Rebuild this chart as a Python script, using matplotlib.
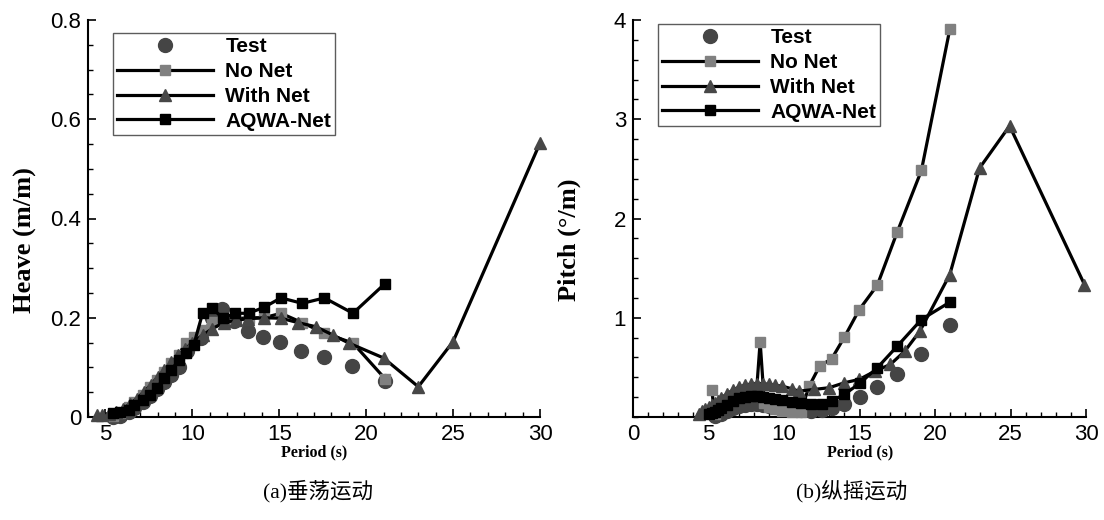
import matplotlib
matplotlib.use('Agg')
from matplotlib import pyplot as plt
from matplotlib.ticker import MultipleLocator, FixedLocator
from matplotlib.lines import Line2D

# heave (a)
heave_test_t = [5.41, 5.82, 6.33, 6.64, 7.15, 7.56, 7.97, 8.38, 8.79, 9.24, 9.71, 10.5, 11.15, 11.7, 12.4, 13.2, 14.08, 15.04, 16.25, 17.6, 19.2, 21.1]
heave_test = [0.0, 0.003, 0.01, 0.018, 0.03, 0.042, 0.056, 0.07, 0.085, 0.1, 0.132, 0.16, 0.2, 0.217, 0.193, 0.173, 0.161, 0.151, 0.132, 0.121, 0.103, 0.073]

heave_nonet_t = [5.41, 5.82, 6.33, 6.64, 7.15, 7.56, 7.97, 8.38, 8.79, 9.24, 9.61, 10.08, 10.59, 11.15, 11.76, 12.48, 13.24, 14.12, 15.1, 16.33, 17.6, 19.24, 21.09]
heave_nonet = [0.003, 0.008, 0.02, 0.03, 0.045, 0.06, 0.075, 0.09, 0.108, 0.125, 0.149, 0.162, 0.175, 0.192, 0.195, 0.198, 0.2, 0.2, 0.209, 0.19, 0.169, 0.149, 0.077]

heave_net_t = [4.5, 4.8, 5.2, 5.6, 6.0, 6.4, 6.8, 7.2, 7.6, 8.0, 8.4, 8.8, 9.2, 9.6, 10.0, 10.6, 11.15, 11.8, 12.5, 13.2, 14.1, 15.1, 16.1, 17.1, 18.1, 19.0, 21.0, 23.0, 25.0, 30.0]
heave_net = [0.005, 0.005, 0.007, 0.01, 0.016, 0.026, 0.037, 0.05, 0.064, 0.08, 0.095, 0.11, 0.124, 0.137, 0.15, 0.165, 0.178, 0.19, 0.195, 0.198, 0.2, 0.199, 0.19, 0.182, 0.165, 0.149, 0.119, 0.061, 0.152, 0.552]

heave_aqwa_t = [5.41, 5.82, 6.33, 6.64, 7.15, 7.56, 7.97, 8.38, 8.79, 9.24, 9.61, 10.08, 10.59, 11.15, 11.76, 12.48, 13.24, 14.12, 15.1, 16.33, 17.6, 19.24, 21.09]
heave_aqwa = [0.008, 0.010, 0.015, 0.025, 0.035, 0.045, 0.059, 0.079, 0.095, 0.115, 0.129, 0.145, 0.209, 0.219, 0.199, 0.209, 0.209, 0.221, 0.240, 0.229, 0.240, 0.209, 0.269]

# pitch (b)
pitch_test_t = [5.4, 5.8, 6.2, 6.6, 7.0, 7.4, 7.8, 8.2, 8.6, 9.0, 9.4, 9.9, 10.5, 11.1, 11.8, 12.5, 13.16, 14.0, 15.06, 16.18, 17.5, 19.1, 20.98]
pitch_test = [0.01, 0.03, 0.06, 0.09, 0.11, 0.12, 0.13, 0.13, 0.12, 0.11, 0.1, 0.09, 0.08, 0.07, 0.06, 0.07, 0.094, 0.127, 0.201, 0.302, 0.43, 0.637, 0.922]

pitch_nonet_t = [5.22, 5.41, 5.82, 6.2, 6.6, 7.0, 7.4, 7.8, 8.2, 8.42, 8.7, 9.0, 9.4, 9.9, 10.5, 11.1, 11.67, 12.36, 13.16, 14.0, 14.99, 16.18, 17.5, 19.1, 20.98]
pitch_nonet = [0.268, 0.03, 0.09, 0.15, 0.2, 0.24, 0.27, 0.29, 0.3, 0.758, 0.14, 0.1, 0.08, 0.06, 0.05, 0.05, 0.312, 0.513, 0.587, 0.805, 1.083, 1.328, 1.864, 2.484, 3.906]

pitch_net_t = [4.35, 4.6, 4.8, 5.03, 5.22, 5.41, 5.6, 5.82, 6.2, 6.6, 7.0, 7.4, 7.8, 8.2, 8.6, 9.0, 9.4, 9.9, 10.5, 10.98, 12.0, 12.99, 14.0, 14.99, 16.0, 17.05, 18.0, 19.0, 20.98, 22.95, 24.94, 29.9]
pitch_net = [0.03, 0.06, 0.08, 0.1, 0.12, 0.14, 0.16, 0.19, 0.23, 0.27, 0.3, 0.32, 0.33, 0.335, 0.335, 0.33, 0.32, 0.31, 0.285, 0.26, 0.278, 0.295, 0.345, 0.379, 0.46, 0.53, 0.664, 0.865, 1.435, 2.508, 2.933, 1.334]

pitch_aqwa_t = [5.03, 5.22, 5.41, 5.6, 5.82, 6.2, 6.6, 7.0, 7.4, 7.8, 8.2, 8.6, 9.0, 9.4, 9.9, 10.5, 11.1, 11.8, 12.5, 13.16, 14.0, 15.06, 16.18, 17.5, 19.1, 20.98]
pitch_aqwa = [0.03, 0.04, 0.05, 0.07, 0.09, 0.12, 0.16, 0.19, 0.2, 0.21, 0.21, 0.2, 0.19, 0.18, 0.17, 0.155, 0.14, 0.13, 0.13, 0.161, 0.228, 0.345, 0.496, 0.714, 0.982, 1.157]

labels = ['Test', 'No Net', 'With Net', 'AQWA-Net']
captions = ['(a)垂荡运动', '(b)纵摇运动']

c_test = '#454545'
c_nonet = '#808080'
c_net = '#474747'
lw = 2.3

fig = plt.figure(figsize=(11.04, 5.2), dpi=100)
W, H = 1104, 520

def make_axes(x0, x1):
	return fig.add_axes([x0 / W, 1 - 417 / H, (x1 - x0) / W, 397 / H])

def style(ax):
	for s in ['top', 'right']:
		ax.spines[s].set_visible(False)
	for s in ['left', 'bottom']:
		ax.spines[s].set_linewidth(1.5)
	ax.tick_params(which='major', direction='in', length=6, width=1.2, labelsize=16, pad=5)
	ax.tick_params(which='minor', direction='in', length=3.5, width=1.0)
	for t in ax.get_xticklabels() + ax.get_yticklabels():
		t.set_family('Liberation Sans')

def draw(ax, data):
	(tt, tv), (nt, nv), (wt, wv), (at, av) = data
	ax.plot(tt, tv, 'o', ls='none', color=c_test, ms=10, mec=c_test, clip_on=False, zorder=3)
	ax.plot(nt, nv, '-s', color='black', lw=lw, mfc=c_nonet, mec=c_nonet, ms=7.5, clip_on=False, zorder=4)
	ax.plot(wt, wv, '-^', color='black', lw=lw, mfc=c_net, mec=c_net, ms=8.5, clip_on=False, zorder=5)
	ax.plot(at, av, '-s', color='black', lw=lw, mfc='black', mec='black', ms=7.5, clip_on=False, zorder=6)

def legend(ax, x, y):
	handles = [
		Line2D([], [], ls='none', marker='o', color=c_test, ms=10),
		Line2D([], [], color='black', lw=lw, marker='s', mfc=c_nonet, mec=c_nonet, ms=7.5),
		Line2D([], [], color='black', lw=lw, marker='^', mfc=c_net, mec=c_net, ms=8.5),
		Line2D([], [], color='black', lw=lw, marker='s', mfc='black', mec='black', ms=7.5),
	]
	leg = ax.legend(handles, labels, loc='upper left', bbox_to_anchor=(x, y), handlelength=4.6,
		handletextpad=0.6, labelspacing=0.28, borderpad=0.2, borderaxespad=0, fancybox=False,
		prop={'family': 'Liberation Sans', 'weight': 'bold', 'size': 15})
	leg.get_frame().set_edgecolor('#333333')
	leg.get_frame().set_linewidth(1.0)
	leg.set_zorder(10)

# left: heave
ax1 = make_axes(88, 540)
draw(ax1, [(heave_test_t, heave_test), (heave_nonet_t, heave_nonet), (heave_net_t, heave_net), (heave_aqwa_t, heave_aqwa)])
ax1.set_xlim(4, 30)
ax1.set_ylim(0, 0.8)
ax1.xaxis.set_major_locator(FixedLocator([5, 10, 15, 20, 25, 30]))
ax1.xaxis.set_minor_locator(MultipleLocator(1))
ax1.set_yticks([0, 0.2, 0.4, 0.6, 0.8])
ax1.set_yticklabels(['0', '0.2', '0.4', '0.6', '0.8'])
ax1.yaxis.set_minor_locator(MultipleLocator(0.05))
style(ax1)
legend(ax1, 0.055, 0.967)

# right: pitch
ax2 = make_axes(633, 1086)
draw(ax2, [(pitch_test_t, pitch_test), (pitch_nonet_t, pitch_nonet), (pitch_net_t, pitch_net), (pitch_aqwa_t, pitch_aqwa)])
ax2.set_xlim(0, 30)
ax2.set_ylim(0, 4)
ax2.xaxis.set_major_locator(MultipleLocator(5))
ax2.xaxis.set_minor_locator(MultipleLocator(1))
ax2.set_yticks([1, 2, 3, 4])
ax2.set_yticklabels(['1', '2', '3', '4'])
ax2.yaxis.set_minor_locator(MultipleLocator(0.2))
style(ax2)
legend(ax2, 0.055, 0.99)

# axis titles
fig.text(25 / W, 1 - 240 / H, 'Heave (m/m)', rotation=90, ha='center', va='center',
	family='Liberation Serif', weight='bold', size=19)
fig.text(569 / W, 1 - 240 / H, 'Pitch (°/m)', rotation=90, ha='center', va='center',
	family='Liberation Serif', weight='bold', size=19)
fig.text(314 / W, 1 - 452 / H, 'Period (s)', ha='center', va='center',
	family='Liberation Serif', weight='bold', size=11.5)
fig.text(860 / W, 1 - 452 / H, 'Period (s)', ha='center', va='center',
	family='Liberation Serif', weight='bold', size=11.5)

# captions
fig.text(318 / W, 1 - 491 / H, captions[0], ha='center', va='center',
	family=['Liberation Serif', 'Noto Sans CJK SC'], size=15.5)
fig.text(852 / W, 1 - 491 / H, captions[1], ha='center', va='center',
	family=['Liberation Serif', 'Noto Sans CJK SC'], size=15.5)

plt.savefig('out.png', dpi=100)
